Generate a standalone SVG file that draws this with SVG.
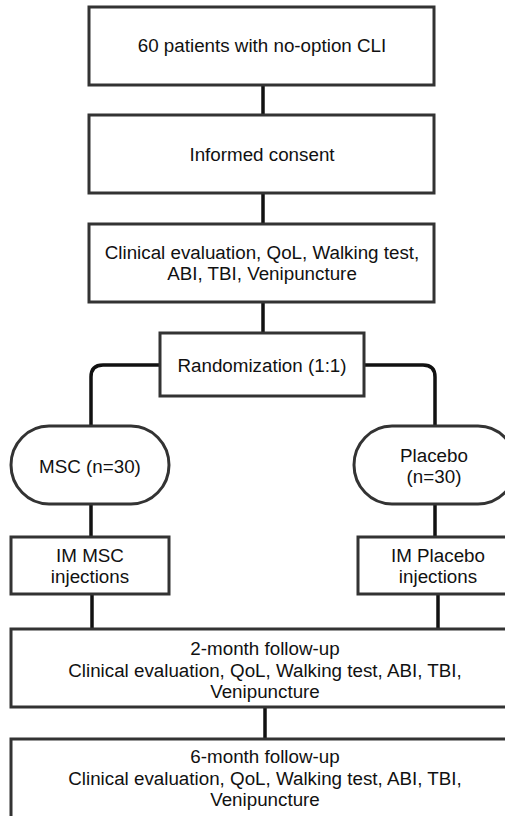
<svg xmlns="http://www.w3.org/2000/svg" width="505" height="816" viewBox="0 0 505 816">
<style>
.box{fill:#fff;stroke:#333;stroke-width:3}
.c{fill:none;stroke:#111;stroke-width:3.5}
text{font-family:"Liberation Sans",Arial,sans-serif;font-size:18.8px;fill:#111;text-anchor:middle}
</style>
<rect width="505" height="816" fill="#fff"/>
<g id="connectors">
<line class="c" x1="263" y1="85" x2="263" y2="115"/>
<line class="c" x1="263" y1="193" x2="263" y2="224"/>
<line class="c" x1="263" y1="302" x2="263" y2="333"/>
<path class="c" d="M160 365 H103 Q91 365 91 377 V426"/>
<path class="c" d="M364 365 H423 Q435 365 435 377 V426"/>
<line class="c" x1="91" y1="504" x2="91" y2="537"/>
<line class="c" x1="435" y1="504" x2="435" y2="537"/>
<line class="c" x1="92" y1="594" x2="92" y2="629"/>
<line class="c" x1="438" y1="594" x2="438" y2="629"/>
<line class="c" x1="265" y1="707" x2="265" y2="739"/>
</g>
<g id="n1"><rect class="box" x="89" y="7" width="345" height="78"/><text x="262" y="52">60 patients with no-option CLI</text></g>
<g id="n2"><rect class="box" x="89" y="115" width="345" height="78"/><text x="262" y="161">Informed consent</text></g>
<g id="n3"><rect class="box" x="89" y="224" width="345" height="78"/><text x="262" y="259">Clinical evaluation, QoL, Walking test,</text><text x="262" y="280">ABI, TBI, Venipuncture</text></g>
<g id="n4"><rect class="box" x="160" y="333" width="204" height="63"/><text x="262" y="372">Randomization (1:1)</text></g>
<g id="n5"><rect class="box" x="11" y="426" width="158" height="78" rx="38" ry="39"/><text x="90" y="473">MSC (n=30)</text></g>
<g id="n6"><rect class="box" x="354" y="426" width="162" height="78" rx="38" ry="39"/><text x="434" y="462">Placebo</text><text x="434" y="483">(n=30)</text></g>
<g id="n7"><rect class="box" x="11" y="537" width="158" height="57"/><text x="90" y="562">IM MSC</text><text x="90" y="583">injections</text></g>
<g id="n8"><rect class="box" x="358" y="537" width="160" height="57"/><text x="438" y="562">IM Placebo</text><text x="438" y="583">injections</text></g>
<g id="n9"><rect class="box" x="11" y="629" width="508" height="78"/><text x="265" y="655">2-month follow-up</text><text x="265" y="677">Clinical evaluation, QoL, Walking test, ABI, TBI,</text><text x="265" y="698">Venipuncture</text></g>
<g id="n10"><rect class="box" x="11" y="739" width="508" height="90"/><text x="265" y="763">6-month follow-up</text><text x="265" y="785">Clinical evaluation, QoL, Walking test, ABI, TBI,</text><text x="265" y="806">Venipuncture</text></g>
</svg>
